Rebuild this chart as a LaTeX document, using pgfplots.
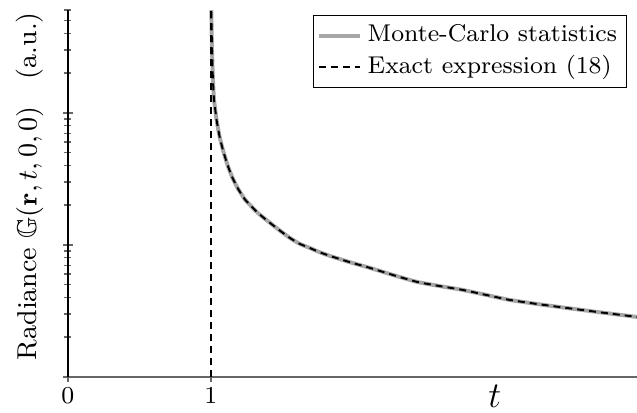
\documentclass[border=0pt]{standalone}
\usepackage{amssymb}
\usepackage{pgfplots}
\usepackage{pgfplotstable}
\pgfplotsset{compat=1.18}

% radiance (log scale)
\pgfplotstableread{
t      G
1.002  7.2
1.003  6.0
1.008  3.0
1.014  1.84
1.021  1.29
1.030  1.07
1.040  0.88
1.060  0.668
1.084  0.525
1.115  0.407
1.150  0.324
1.190  0.266
1.238  0.221
1.273  0.201
1.330  0.174
1.413  0.147
1.480  0.129
1.552  0.113
1.620  0.102
1.692  0.0948
1.760  0.0881
1.832  0.0826
1.970  0.0741
2.112  0.0670
2.280  0.0589
2.441  0.0525
2.600  0.0488
2.762  0.0456
2.930  0.0417
3.091  0.0383
3.290  0.0356
3.490  0.0333
3.730  0.0308
3.980  0.0285
}\curve

\begin{document}
\begin{tikzpicture}
\begin{axis}[
  scale only axis, width=187.8pt, height=121.1pt,
  xmin=0, xmax=3.98, ymin=0.01, ymax=6, ymode=log,
  axis lines=left, axis line style={-},
  y axis line style={black, line width=0.5pt},
  x axis line style={black!60, line width=0.8pt},
  xtick={0,1}, yticklabels={},
  tick align=center, tick style={black!60, line width=0.5pt},
  major tick length=3.3pt, minor tick length=2.3pt,
  ticklabel style={font=\fontsize{8}{9}\selectfont},
  xticklabel style={yshift=1.5pt},
  xlabel={$t$},
  xlabel style={font=\fontsize{12}{14}\selectfont, at={(axis description cs:0.75,0)}, anchor=north, yshift=1pt},
  ylabel={Radiance $\mathbb{G}(\mathbf{r},t,0,0)$\quad(a.u.)},
  ylabel style={font=\fontsize{9}{10}\selectfont, at={(axis description cs:-0.024,0.52)}, anchor=south},
  legend style={font=\fontsize{8}{9}\selectfont, draw=black, line width=0.4pt,
    at={(0.982,0.986)}, anchor=north east, inner sep=1pt, row sep=-1pt},
  legend cell align=left,
  legend image code/.code={\draw[#1] (0cm,0cm) -- (13.5pt,0cm);},
]
\addplot[black!35, line width=1.3pt, smooth, tension=0.3] table {\curve};
\addplot[black, line width=0.65pt, dash pattern=on 2.3pt off 1.65pt, smooth, tension=0.3] table {\curve};
\addplot[forget plot, black, line width=0.5pt, dash pattern=on 2.3pt off 1.65pt] coordinates {(1,0.01) (1,6)};
\legend{Monte-Carlo statistics, Exact expression (18)}
\end{axis}
\pgfresetboundingbox
\path ([shift={(-22.4pt,-11.55pt)}]current axis.south west) rectangle ([shift={(0pt,3.3pt)}]current axis.north east);
\end{tikzpicture}
\end{document}
